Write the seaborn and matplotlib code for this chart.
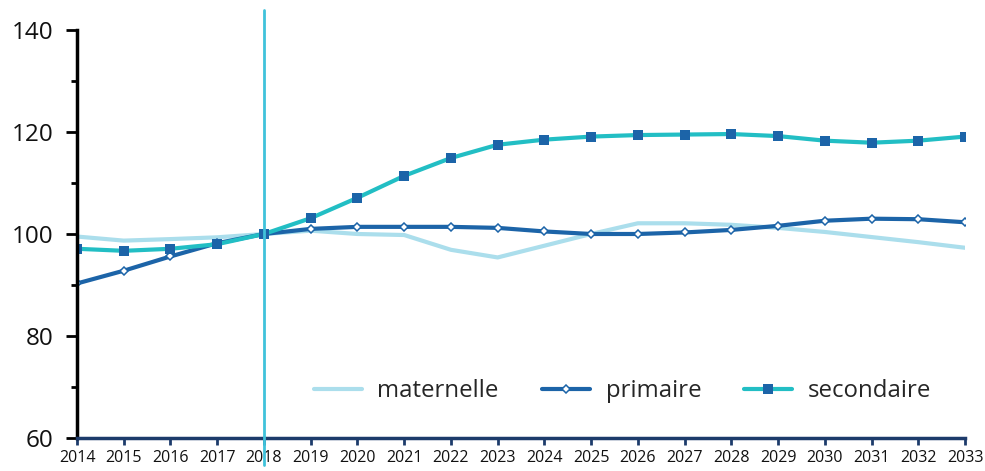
import matplotlib
matplotlib.use("Agg", force=True)
import matplotlib.pyplot as plt
import pandas as pd
import seaborn as sns
from matplotlib.ticker import MultipleLocator

years = list(range(2014, 2034))
maternelle = [99.5, 98.7, 99.0, 99.35, 100.0, 100.65, 100.0, 99.8, 96.9, 95.4,
              97.7, 100.0, 102.1, 102.1, 101.8, 101.2, 100.4, 99.4, 98.4, 97.3]
primaire = [90.3, 92.8, 95.6, 98.2, 100.0, 101.0, 101.4, 101.4, 101.4, 101.2,
            100.5, 100.0, 100.0, 100.3, 100.8, 101.6, 102.6, 103.0, 102.9, 102.3]
secondaire = [97.1, 96.7, 97.1, 98.0, 100.0, 103.1, 107.1, 111.4, 114.9, 117.5,
              118.5, 119.1, 119.4, 119.5, 119.6, 119.2, 118.3, 117.9, 118.3, 119.1]
split_year = 2018

C_MAT = "#abdeec"
C_PRI = "#1c64a8"
C_SEC = "#22bec4"
C_VLINE = "#40c2da"
C_XAXIS = "#1d3b6b"

sns.set_theme(style="white")
plt.rcParams["font.family"] = ["Open Sans", "DejaVu Sans"]

df = pd.DataFrame({"year": years, "maternelle": maternelle,
                   "primaire": primaire, "secondaire": secondaire})

fig = plt.figure(figsize=(9.85, 4.71), dpi=100)
ax = fig.add_axes([0.0782, 0.0701, 0.9015, 0.8662])

sns.lineplot(data=df, x="year", y="maternelle", ax=ax, color=C_MAT, lw=3,
             label="maternelle")
sns.lineplot(data=df, x="year", y="primaire", ax=ax, color=C_PRI, lw=3,
             marker="D", markersize=4.5, markerfacecolor="white",
             markeredgecolor=C_PRI, markeredgewidth=1.1, label="primaire")
sns.lineplot(data=df, x="year", y="secondaire", ax=ax, color=C_SEC, lw=3,
             marker="s", markersize=7, markerfacecolor=C_PRI,
             markeredgecolor=C_PRI, markeredgewidth=0, label="secondaire")

ax.axvline(split_year, ymin=-0.066, ymax=1.049, color=C_VLINE, lw=2,
           clip_on=False, zorder=5)

ax.set_xlim(2014, 2033)
ax.set_ylim(60, 140)
ax.set_xticks(years)
ax.set_xticklabels([str(y) for y in years])
ax.yaxis.set_major_locator(MultipleLocator(20))
ax.yaxis.set_minor_locator(MultipleLocator(10))
ax.set_xlabel("")
ax.set_ylabel("")

for side in ["top", "right"]:
    ax.spines[side].set_visible(False)
ax.spines["left"].set_color("black")
ax.spines["left"].set_linewidth(2.5)
ax.spines["bottom"].set_color(C_XAXIS)
ax.spines["bottom"].set_linewidth(2.5)

ax.tick_params(axis="y", which="both", left=True, direction="out",
               color="black", width=2, labelsize=17.5, labelcolor="#111111", pad=9)
ax.tick_params(axis="y", which="major", length=8)
ax.tick_params(axis="y", which="minor", length=4)
ax.tick_params(axis="x", which="major", bottom=True, direction="out",
               color=C_XAXIS, width=2, length=5, labelsize=11.5,
               labelcolor="#111111", pad=4)

leg = ax.legend(loc="center", bbox_to_anchor=(0.632, 0.17),
                bbox_transform=fig.transFigure, ncol=3, frameon=False,
                fontsize=17.3, handlelength=2.0, handletextpad=0.65,
                columnspacing=1.8)

fig.savefig("out.png", dpi=100)
